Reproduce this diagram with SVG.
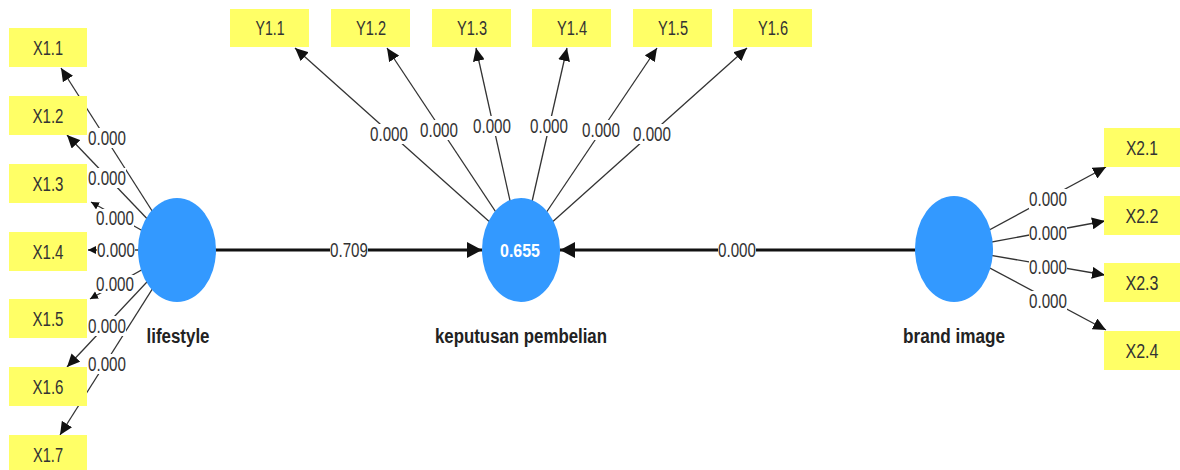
<svg xmlns="http://www.w3.org/2000/svg" width="1180" height="470" viewBox="0 0 1180 470">
<style>
.box{fill:#FFFF66}
.bt{font-family:"Liberation Sans",sans-serif;font-size:20px;fill:#333;text-anchor:middle}
.lv{fill:#3399FF}
.name{font-family:"Liberation Sans",sans-serif;font-weight:bold;font-size:20px;fill:#222;text-anchor:middle}
.ln{stroke:#333;stroke-width:1.3;fill:none;marker-end:url(#ah)}
.sm{marker-end:url(#ahs)}
.main{stroke:#111;stroke-width:3;fill:none;marker-end:url(#ahb)}
.lbl{font-family:"Liberation Sans",sans-serif;font-size:19.5px;fill:#333;text-anchor:middle}
.lb{fill:#fff}
</style>
<defs>
<marker id="ah" markerUnits="userSpaceOnUse" markerWidth="14" markerHeight="12" refX="13" refY="6" orient="auto"><path d="M0,0 L13,6 L0,12 z" fill="#111"/></marker>
<marker id="ahs" markerUnits="userSpaceOnUse" markerWidth="9" markerHeight="9" refX="8" refY="4" orient="auto"><path d="M0,0 L8,4 L0,8 z" fill="#111"/></marker>
<marker id="ahb" markerUnits="userSpaceOnUse" markerWidth="16" markerHeight="16" refX="15" refY="8" orient="auto"><path d="M0,0 L15,8 L0,16 z" fill="#111"/></marker>
</defs>
<rect width="1180" height="470" fill="#fff"/>
<g id="connectors">
<path class="ln" d="M177,250 L61,68"/>
<path class="ln" d="M177,250 L67,135"/>
<path class="ln sm" d="M177,250 L91,202"/>
<path class="ln sm" d="M177,250 L88,250"/>
<path class="ln sm" d="M177,250 L90,299"/>
<path class="ln" d="M177,250 L67,367"/>
<path class="ln" d="M177,250 L60,435"/>
<path class="ln" d="M521,250 L295,48"/>
<path class="ln" d="M521,250 L387,48"/>
<path class="ln" d="M521,250 L476,48"/>
<path class="ln" d="M521,250 L567,48"/>
<path class="ln" d="M521,250 L657,48"/>
<path class="ln" d="M521,250 L747,48"/>
<path class="ln" d="M954,249 L1106,167"/>
<path class="ln" d="M954,249 L1105,221"/>
<path class="ln" d="M954,249 L1105,275"/>
<path class="ln" d="M954,249 L1106,330"/>
<path class="main" d="M215,250 L482,250"/>
<path class="main" d="M916,250 L560,250"/>
<g id="labels">
<rect class="lb" x="88" y="128" width="38" height="20"/><text class="lbl" x="107" y="145" textLength="38" lengthAdjust="spacingAndGlyphs">0.000</text>
<rect class="lb" x="88" y="168" width="38" height="20"/><text class="lbl" x="107" y="185" textLength="38" lengthAdjust="spacingAndGlyphs">0.000</text>
<rect class="lb" x="96" y="209" width="38" height="18"/><text class="lbl" x="115" y="225" textLength="38" lengthAdjust="spacingAndGlyphs">0.000</text>
<rect class="lb" x="97" y="240" width="38" height="20"/><text class="lbl" x="116" y="257" textLength="38" lengthAdjust="spacingAndGlyphs">0.000</text>
<rect class="lb" x="96" y="275" width="38" height="18"/><text class="lbl" x="115" y="291" textLength="38" lengthAdjust="spacingAndGlyphs">0.000</text>
<rect class="lb" x="88" y="316" width="38" height="20"/><text class="lbl" x="107" y="333" textLength="38" lengthAdjust="spacingAndGlyphs">0.000</text>
<rect class="lb" x="88" y="354" width="38" height="20"/><text class="lbl" x="107" y="371" textLength="38" lengthAdjust="spacingAndGlyphs">0.000</text>
<rect class="lb" x="370" y="124" width="38" height="20"/><text class="lbl" x="389" y="141" textLength="38" lengthAdjust="spacingAndGlyphs">0.000</text>
<rect class="lb" x="420" y="120" width="38" height="20"/><text class="lbl" x="439" y="137" textLength="38" lengthAdjust="spacingAndGlyphs">0.000</text>
<rect class="lb" x="473" y="116" width="38" height="20"/><text class="lbl" x="492" y="133" textLength="38" lengthAdjust="spacingAndGlyphs">0.000</text>
<rect class="lb" x="530" y="116" width="38" height="20"/><text class="lbl" x="549" y="133" textLength="38" lengthAdjust="spacingAndGlyphs">0.000</text>
<rect class="lb" x="582" y="120" width="38" height="20"/><text class="lbl" x="601" y="137" textLength="38" lengthAdjust="spacingAndGlyphs">0.000</text>
<rect class="lb" x="633" y="124" width="38" height="20"/><text class="lbl" x="652" y="141" textLength="38" lengthAdjust="spacingAndGlyphs">0.000</text>
<rect class="lb" x="1029" y="189" width="38" height="20"/><text class="lbl" x="1048" y="206" textLength="38" lengthAdjust="spacingAndGlyphs">0.000</text>
<rect class="lb" x="1029" y="223" width="38" height="20"/><text class="lbl" x="1048" y="240" textLength="38" lengthAdjust="spacingAndGlyphs">0.000</text>
<rect class="lb" x="1029" y="257" width="38" height="20"/><text class="lbl" x="1048" y="274" textLength="38" lengthAdjust="spacingAndGlyphs">0.000</text>
<rect class="lb" x="1029" y="291" width="38" height="20"/><text class="lbl" x="1048" y="308" textLength="38" lengthAdjust="spacingAndGlyphs">0.000</text>
<rect class="lb" x="330" y="240" width="38" height="20"/><text class="lbl" x="349" y="257" textLength="38" lengthAdjust="spacingAndGlyphs">0.709</text>
<rect class="lb" x="718" y="240" width="38" height="20"/><text class="lbl" x="737" y="257" textLength="38" lengthAdjust="spacingAndGlyphs">0.000</text>
</g>
</g>
<g id="lifestyle"><ellipse class="lv" cx="177" cy="250" rx="39" ry="52"/><text class="name" x="178" y="343" textLength="63" lengthAdjust="spacingAndGlyphs">lifestyle</text></g>
<g id="keputusan"><ellipse class="lv" cx="521" cy="250" rx="39" ry="52"/><text x="520" y="257" font-family="Liberation Sans,sans-serif" font-weight="bold" font-size="19" fill="#fff" text-anchor="middle" textLength="40" lengthAdjust="spacingAndGlyphs">0.655</text><text class="name" x="521" y="343" textLength="172" lengthAdjust="spacingAndGlyphs">keputusan pembelian</text></g>
<g id="brand"><ellipse class="lv" cx="954" cy="249" rx="39" ry="53"/><text class="name" x="954" y="343" textLength="102" lengthAdjust="spacingAndGlyphs">brand image</text></g>
<g id="X1.1"><rect class="box" x="9" y="28" width="78" height="39"/><text class="bt" x="48" y="55" textLength="30" lengthAdjust="spacingAndGlyphs">X1.1</text></g>
<g id="X1.2"><rect class="box" x="9" y="96" width="78" height="39"/><text class="bt" x="48" y="123" textLength="31" lengthAdjust="spacingAndGlyphs">X1.2</text></g>
<g id="X1.3"><rect class="box" x="9" y="164" width="78" height="39"/><text class="bt" x="48" y="191" textLength="31" lengthAdjust="spacingAndGlyphs">X1.3</text></g>
<g id="X1.4"><rect class="box" x="9" y="232" width="78" height="39"/><text class="bt" x="48" y="259" textLength="31" lengthAdjust="spacingAndGlyphs">X1.4</text></g>
<g id="X1.5"><rect class="box" x="9" y="299" width="78" height="39"/><text class="bt" x="48" y="326" textLength="31" lengthAdjust="spacingAndGlyphs">X1.5</text></g>
<g id="X1.6"><rect class="box" x="9" y="367" width="78" height="39"/><text class="bt" x="48" y="394" textLength="31" lengthAdjust="spacingAndGlyphs">X1.6</text></g>
<g id="X1.7"><rect class="box" x="9" y="435" width="78" height="39"/><text class="bt" x="48" y="462" textLength="30" lengthAdjust="spacingAndGlyphs">X1.7</text></g>
<g id="Y1.1"><rect class="box" x="230" y="9" width="79" height="38"/><text class="bt" x="270" y="35" textLength="29" lengthAdjust="spacingAndGlyphs">Y1.1</text></g>
<g id="Y1.2"><rect class="box" x="331" y="9" width="79" height="38"/><text class="bt" x="371" y="35" textLength="30" lengthAdjust="spacingAndGlyphs">Y1.2</text></g>
<g id="Y1.3"><rect class="box" x="432" y="9" width="79" height="38"/><text class="bt" x="472" y="35" textLength="30" lengthAdjust="spacingAndGlyphs">Y1.3</text></g>
<g id="Y1.4"><rect class="box" x="532" y="9" width="79" height="38"/><text class="bt" x="572" y="35" textLength="30" lengthAdjust="spacingAndGlyphs">Y1.4</text></g>
<g id="Y1.5"><rect class="box" x="633" y="9" width="79" height="38"/><text class="bt" x="673" y="35" textLength="30" lengthAdjust="spacingAndGlyphs">Y1.5</text></g>
<g id="Y1.6"><rect class="box" x="733" y="9" width="79" height="38"/><text class="bt" x="773" y="35" textLength="30" lengthAdjust="spacingAndGlyphs">Y1.6</text></g>
<g id="X2.1"><rect class="box" x="1104" y="128" width="78" height="39"/><text class="bt" x="1142" y="155" textLength="32" lengthAdjust="spacingAndGlyphs">X2.1</text></g>
<g id="X2.2"><rect class="box" x="1104" y="196" width="78" height="39"/><text class="bt" x="1142" y="223" textLength="33" lengthAdjust="spacingAndGlyphs">X2.2</text></g>
<g id="X2.3"><rect class="box" x="1104" y="263" width="78" height="39"/><text class="bt" x="1142" y="290" textLength="33" lengthAdjust="spacingAndGlyphs">X2.3</text></g>
<g id="X2.4"><rect class="box" x="1104" y="331" width="78" height="39"/><text class="bt" x="1142" y="358" textLength="33" lengthAdjust="spacingAndGlyphs">X2.4</text></g>
</svg>
